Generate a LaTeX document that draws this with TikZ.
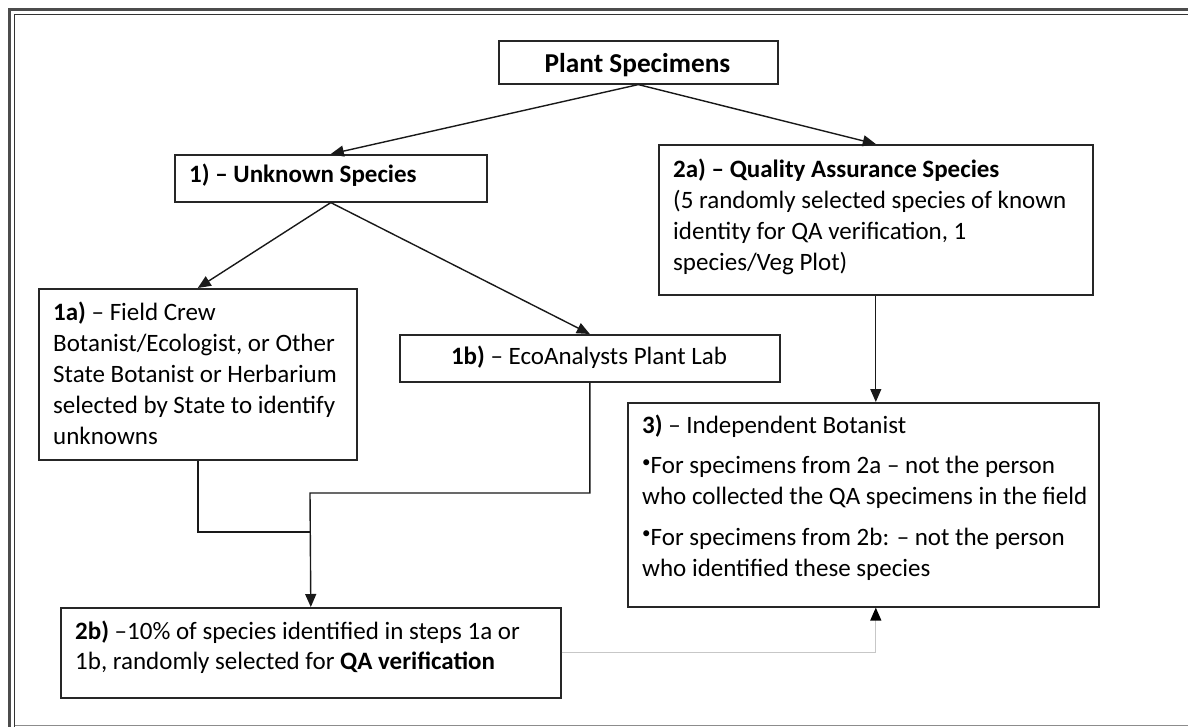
\documentclass[tikz,border=0pt]{standalone}
\usepackage{fontspec}
\setmainfont{Carlito}
\usetikzlibrary{arrows.meta}
\newcommand{\mybul}{\raisebox{6.5pt}{\fontsize{17}{17}\selectfont •}}
\begin{document}
\begin{tikzpicture}[x=1pt,y=-1pt,
  box/.style={draw=black!85, line width=1.6pt, inner sep=0pt, anchor=north west},
  txt/.style={inner sep=0pt, anchor=north west, align=left, font=\fontsize{25}{31}\selectfont},
  ttl/.style={inner sep=0pt, font=\fontsize{25}{31}\selectfont},
  link/.style={draw=black!90, line width=1.4pt},
  arr/.style={link, -{Triangle[length=13pt,width=11pt]}},
  garr/.style={draw=black!22, line width=1.3pt, -{Triangle[length=13pt,width=11pt,color=black]}}
]
\useasboundingbox (0,0) rectangle (1188,727);
% outer frame
\draw[line width=2.6pt, black!70] (9.5,727) -- (9.5,9.5) -- (1188,9.5);
\draw[line width=1.3pt, black!80] (14.5,727) -- (14.5,14.5) -- (1188,14.5);
\draw[line width=1pt, black!45] (14.5,725) -- (1188,725);

% boxes
\node[box, minimum width=279pt, minimum height=43pt] (ps) at (498,40) {};
\node[box, minimum width=312pt, minimum height=47pt] (unk) at (174,154) {};
\node[box, minimum width=434pt, minimum height=150pt] (qa) at (658,144) {};
\node[box, minimum width=318pt, minimum height=171pt] (fa) at (38,288) {};
\node[box, minimum width=380pt, minimum height=47pt] (lab) at (399,334) {};
\node[box, minimum width=471pt, minimum height=204pt] (ind) at (627,402) {};
\node[box, minimum width=500pt, minimum height=90pt] (qv) at (60,607) {};

% texts
\node[inner sep=0pt, anchor=base, font=\bfseries\fontsize{27.3}{33}\selectfont] (pst) at (637.5,73) {Plant Specimens};
\node[ttl, anchor=base west] (unkt) at (189,183) {\textbf{1) – Unknown Species}};
\node[ttl, anchor=base] (labt) at (589,364) {\textbf{1b)} – EcoAnalysts Plant Lab};
\node[txt] (qat) at (673,155.3) {\strut\textbf{2a) – Quality Assurance Species}\\
\strut(5 randomly selected species of known\\
\strut identity for QA verification, 1\\
\strut species/Veg Plot)};
\node[txt] (fat) at (53,298.3) {\strut\textbf{1a)} – Field Crew\\
\strut Botanist/Ecologist, or Other\\
\strut State Botanist or Herbarium\\
\strut selected by State to identify\\
\strut unknowns};
\node[txt] (indt) at (642,411.3) {\strut\textbf{3)} – Independent Botanist\\[9.5pt]
\strut\mybul For specimens from 2a – not the person\\
\strut who collected the QA specimens in the field\\[9.5pt]
\strut\mybul For specimens from 2b: – not the person\\
\strut who identified these species};
\node[txt] (qvt) at (75,617.8) {\strut\textbf{2b)} –10\% of species identified in steps 1a or\\[-1pt]
\strut 1b, randomly selected for \textbf{QA verification}};

% connectors
\draw[arr] (ps.south) -- (unk.north);
\draw[arr] (ps.south) -- (qa.north);
\draw[arr] (unk.south) -- (fa.north);
\draw[arr] (unk.south) -- (lab.north);
\draw[arr, line width=1.2pt] (qa.south) -- (qa.south |- ind.north);
\coordinate (m1) at (310,532);
\coordinate (m2) at (310,493);
\draw[link] (fa.south) |- (m1);
\draw[arr] (lab.south) |- (m2) -- (qv.north);
\draw[garr] (qv.east) -| (qa.south |- ind.south);
\end{tikzpicture}
\end{document}
